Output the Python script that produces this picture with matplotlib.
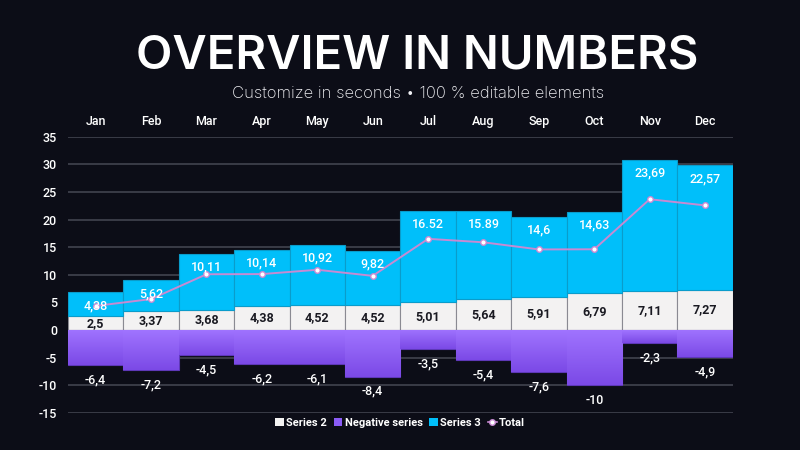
import matplotlib

matplotlib.use("Agg")
import matplotlib.pyplot as plt
import numpy as np
from matplotlib.lines import Line2D
from matplotlib.patches import Patch

BG = "#0C0D17"
WHITE_BAR = "#F3F2F2"
CYAN = "#00BFFA"
PURPLE_TOP = "#A074FF"
PURPLE_BOTTOM = "#7B49E6"
LINE_PINK = "#C88AD2"
GRID = "#3A3C47"

months = ["Jan", "Feb", "Mar", "Apr", "May", "Jun", "Jul", "Aug", "Sep", "Oct", "Nov", "Dec"]
series2 = [2.5, 3.37, 3.68, 4.38, 4.52, 4.52, 5.01, 5.64, 5.91, 6.79, 7.11, 7.27]
negative = [-6.4, -7.2, -4.5, -6.2, -6.1, -8.4, -3.5, -5.4, -7.6, -10, -2.3, -4.9]
series3 = [4.38, 5.62, 10.11, 10.14, 10.92, 9.82, 16.52, 15.89, 14.6, 14.63, 23.69, 22.57]
series3_labels = ["4,38", "5,62", "10,11", "10,14", "10,92", "9,82",
                  "16.52", "15.89", "14,6", "14,63", "23,69", "22,57"]
yticks = [-15, -10, -5, 0, 5, 10, 15, 20, 25, 30, 35]

LABEL_FONT = ["Roboto", "DejaVu Sans"]


def fmt(v):
    return f"{v:g}".replace(".", ",")


fig = plt.figure(figsize=(8, 4.5), dpi=100, facecolor=BG)
ax = fig.add_axes([0.085, 0.0822, 0.831, 0.614])
ax.set_facecolor(BG)

x = np.arange(len(months))

ax.bar(x, series2, width=1.0, color=WHITE_BAR, edgecolor="#8A8A92", linewidth=0.8, zorder=2)
ax.bar(x, series3, width=1.0, bottom=series2, color=CYAN, edgecolor="#0A9CCB", linewidth=0.8, zorder=2)
neg_bars = ax.bar(x, negative, width=1.0, color=PURPLE_TOP, edgecolor="#5E38B8", linewidth=0.8, zorder=2)

# vertical gradient on the negative bars
grad = np.linspace(0, 1, 256).reshape(-1, 1)
cmap = matplotlib.colors.LinearSegmentedColormap.from_list("neg", [PURPLE_TOP, PURPLE_BOTTOM])
for bar in neg_bars:
    x0 = bar.get_x()
    w = bar.get_width()
    h = bar.get_height()
    im = ax.imshow(grad, cmap=cmap, aspect="auto", extent=(x0, x0 + w, h, 0),
                   origin="upper", zorder=2.1)
    im.set_clip_path(bar)

ax.plot(x, series3, color=LINE_PINK, linewidth=1.4, marker="o", markersize=4,
        markerfacecolor="white", markeredgecolor=LINE_PINK, markeredgewidth=1, zorder=4)

for i in range(len(months)):
    ax.text(x[i], series2[i] / 2, fmt(series2[i]), ha="center", va="center",
            fontsize=9, color="#1A1A22", fontweight="bold", family=LABEL_FONT, zorder=5)
    ax.annotate(series3_labels[i], (x[i], series2[i] + series3[i]), xytext=(0, -5),
                textcoords="offset points", ha="center", va="top", fontsize=9,
                color="white", fontweight="medium", family=LABEL_FONT, zorder=5)
    ax.annotate(fmt(negative[i]), (x[i], negative[i]), xytext=(0, -6),
                textcoords="offset points", ha="center", va="top", fontsize=9,
                color="white", fontweight="medium", family=LABEL_FONT, zorder=5)

ax.set_xlim(-0.5, len(months) - 0.5)
ax.set_ylim(-15, 35)
ax.set_yticks(yticks)
ax.set_yticklabels([str(t) for t in yticks], fontsize=9, color="white",
                   fontweight="medium", family=LABEL_FONT)
ax.set_xticks(x)
ax.set_xticklabels(months, fontsize=9, color="white", fontweight="medium", family=LABEL_FONT)
ax.xaxis.tick_top()
ax.tick_params(axis="both", length=0)
ax.tick_params(axis="x", pad=6)
ax.tick_params(axis="y", pad=8)
ax.grid(axis="y", color=GRID, linewidth=1.4, zorder=0)
ax.set_axisbelow(True)
for s in ax.spines.values():
    s.set_visible(False)

fig.text(0.522, 0.875, "OVERVIEW IN NUMBERS", ha="center", va="center", fontsize=34,
         fontweight="semibold", family="Inter", color="white")
fig.text(0.523, 0.793, "Customize in seconds \u2022 100 % editable elements", ha="center",
         va="center", fontsize=12, fontweight="light", family="Inter", color="#F0F0F4")

handles = [
    Patch(facecolor=WHITE_BAR, edgecolor="none"),
    Patch(facecolor="#8B5CF6", edgecolor="none"),
    Patch(facecolor=CYAN, edgecolor="none"),
    Line2D([0], [0], color=LINE_PINK, marker="o", markersize=4, markerfacecolor="white",
           markeredgecolor=LINE_PINK, linewidth=1.2),
]
fig.legend(handles, ["Series 2", "Negative series", "Series 3", "Total"], loc="center",
           bbox_to_anchor=(0.5, 0.06), ncol=4, frameon=False, handlelength=0.8,
           handleheight=0.8, handletextpad=0.2, columnspacing=0.6,
           prop={"family": LABEL_FONT, "size": 8, "weight": "bold"}, labelcolor="white")

fig.savefig("out.png", dpi=100, facecolor=BG)
